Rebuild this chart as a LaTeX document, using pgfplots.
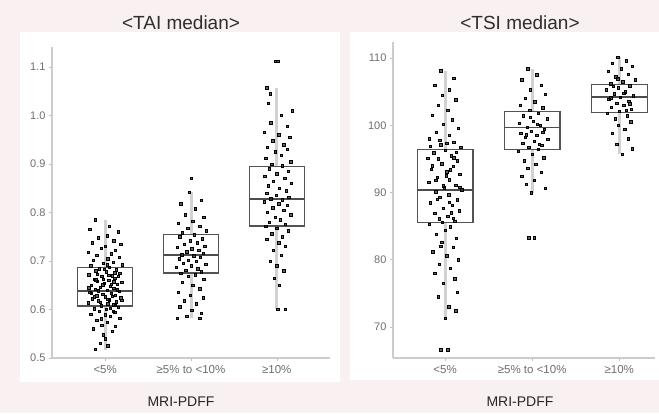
\documentclass[border=0pt]{standalone}
\usepackage{pgfplots}
\pgfplotsset{compat=1.18}
\usepgfplotslibrary{statistics}
\usepackage{fontspec}
\setmainfont{Liberation Sans}
\definecolor{bgpink}{RGB}{249,240,241}
\definecolor{txtgray}{RGB}{110,110,110}
\pgfplotsset{
  panel/.style={
    scale only axis,
    axis x line*=bottom, axis y line*=left,
    axis line style={gray!40, line width=1.5pt},
    xtick={0,1,2},
    xticklabels={{<5\%},{≥5\% to <10\%},{≥10\%}},
    x tick label style={font=\fontsize{11.5}{13}\selectfont, text=txtgray, yshift=-1pt},
    y tick label style={font=\fontsize{11}{13}\selectfont, text=txtgray},
    /pgf/number format/assume math mode=true,
    tick style={gray!50, line width=0.6pt},
    major tick length=3pt,
    tick align=outside,
    title style={font=\fontsize{19}{22}\selectfont, text=black!82, anchor=center},
    xlabel style={font=\fontsize{14}{16}\selectfont, text=black!85, anchor=center},
    boxplot/draw direction=y,
    boxplot/box extend=0.64,
    boxplot/whisker extend=0,
  },
  whiskonly/.style={boxplot/every whisker/.style={draw=gray!35, line width=3pt},
    boxplot/every box/.style={draw=none}, boxplot/every median/.style={draw=none}},
  boxonly/.style={boxplot/every whisker/.style={draw=none},
    boxplot/every box/.style={draw=gray!65!black, line width=1.2pt},
    boxplot/every median/.style={draw=gray!60!black, line width=1.4pt}},
  pts/.style={only marks, mark=square*, mark size=1.2pt, mark options={fill=black!85, draw=none, fill opacity=0.72}},
}
\pgfplotstableread{
x y
-0.12 0.785
0.05 0.772
-0.18 0.765
0.15 0.760
0.02 0.752
-0.08 0.748
0.10 0.742
-0.15 0.738
0.18 0.735
0.00 0.730
-0.05 0.726
0.12 0.722
-0.20 0.718
0.07 0.715
-0.10 0.712
0.16 0.708
0.03 0.705
-0.14 0.702
0.09 0.698
-0.02 0.695
0.20 0.692
-0.17 0.690
0.05 0.687
-0.07 0.684
0.13 0.682
-0.11 0.680
0.01 0.678
0.17 0.675
-0.19 0.672
0.08 0.670
-0.04 0.668
0.11 0.665
-0.13 0.663
0.04 0.660
-0.09 0.658
0.19 0.656
-0.01 0.654
0.14 0.652
-0.16 0.650
0.06 0.648
-0.06 0.646
0.10 0.644
-0.12 0.642
0.02 0.640
0.16 0.638
-0.18 0.636
0.07 0.634
-0.03 0.632
0.12 0.630
-0.10 0.628
0.00 0.626
0.18 0.624
-0.15 0.622
0.05 0.620
-0.08 0.618
0.13 0.616
-0.20 0.614
0.03 0.612
0.09 0.610
-0.05 0.608
0.15 0.605
-0.13 0.602
0.01 0.600
-0.07 0.597
0.11 0.594
-0.17 0.590
0.06 0.586
0.17 0.582
-0.10 0.578
0.02 0.574
-0.04 0.568
0.12 0.565
-0.14 0.560
0.08 0.555
-0.02 0.548
0.00 0.540
-0.06 0.530
0.03 0.525
-0.12 0.518
0.04 0.671
-0.11 0.661
0.14 0.641
-0.03 0.651
0.08 0.627
-0.16 0.633
0.19 0.619
-0.09 0.673
0.06 0.603
-0.01 0.683
0.10 0.657
-0.19 0.645
0.15 0.668
-0.06 0.615
0.02 0.692
0.12 0.609
-0.02 0.662
0.07 0.652
-0.08 0.639
0.03 0.621
0.11 0.676
-0.13 0.626
0.00 0.589
0.09 0.596
-0.05 0.581
}\taiA
\pgfplotstableread{
x y
1.00 0.871
0.98 0.842
1.12 0.825
0.88 0.818
1.05 0.808
0.93 0.795
1.15 0.790
1.02 0.782
0.85 0.778
1.10 0.772
0.96 0.768
1.18 0.762
0.90 0.758
1.04 0.754
0.87 0.750
1.13 0.746
0.99 0.742
1.07 0.738
0.92 0.735
1.16 0.731
0.84 0.728
1.01 0.725
1.09 0.722
0.95 0.719
1.14 0.716
0.89 0.713
1.03 0.711
1.11 0.708
0.86 0.705
0.97 0.702
1.06 0.699
0.91 0.696
1.17 0.693
1.00 0.690
0.83 0.687
1.08 0.684
0.94 0.681
1.12 0.678
0.88 0.675
1.05 0.672
0.97 0.668
1.15 0.662
0.90 0.656
1.02 0.650
1.10 0.643
0.85 0.636
0.99 0.630
1.14 0.624
0.92 0.618
1.06 0.612
0.87 0.606
1.01 0.598
1.12 0.592
0.95 0.586
0.84 0.582
1.10 0.582
}\taiB
\pgfplotstableread{
x y
1.98 1.112
2.01 1.112
1.88 1.057
1.92 1.045
1.90 1.025
2.18 1.010
2.05 1.000
1.93 0.985
2.12 0.978
1.85 0.965
2.02 0.960
2.15 0.955
1.95 0.948
2.08 0.940
1.89 0.935
2.12 0.930
1.98 0.925
2.05 0.918
1.87 0.912
2.16 0.905
1.94 0.900
2.06 0.896
1.91 0.890
2.13 0.885
2.00 0.880
1.86 0.875
2.09 0.870
1.96 0.865
2.17 0.860
1.90 0.855
2.03 0.850
2.11 0.845
1.88 0.840
1.99 0.835
2.14 0.832
1.93 0.828
2.06 0.826
1.85 0.822
2.02 0.818
2.12 0.815
1.95 0.810
2.08 0.805
1.89 0.800
2.16 0.795
1.98 0.790
2.04 0.785
1.91 0.780
2.10 0.776
1.87 0.772
2.00 0.768
2.13 0.762
1.94 0.756
2.06 0.750
1.88 0.745
2.02 0.738
2.10 0.730
1.96 0.722
2.05 0.712
1.92 0.700
2.00 0.690
2.08 0.680
1.97 0.665
2.03 0.650
2.01 0.600
2.10 0.600
}\taiC
\pgfplotstableread{
x y
-0.05 108.1
0.10 107.0
-0.12 106.0
0.05 105.3
-0.03 104.5
0.12 103.8
-0.08 103.0
0.03 102.2
-0.15 101.5
0.08 100.8
-0.02 100.2
0.15 99.6
-0.10 99.0
0.05 98.5
-0.18 98.0
0.10 97.5
-0.05 97.1
0.18 96.7
0.00 96.3
-0.13 95.9
0.07 95.5
-0.20 95.1
0.14 94.7
-0.04 94.3
0.09 93.9
-0.16 93.5
0.02 93.1
0.17 92.7
-0.09 92.3
0.05 91.9
-0.19 91.5
0.12 91.1
-0.01 90.7
0.19 90.4
-0.11 90.1
0.04 89.7
-0.06 89.3
0.14 88.9
-0.17 88.5
0.08 88.1
-0.02 87.7
0.16 87.3
-0.12 86.9
0.03 86.5
-0.07 86.1
0.11 85.7
-0.18 85.3
0.06 84.9
0.00 84.4
-0.10 83.8
0.13 83.2
-0.04 82.6
0.09 81.9
-0.14 81.2
0.02 80.6
0.15 80.0
-0.07 79.3
0.06 78.7
-0.12 78.0
0.11 77.2
-0.02 76.5
0.14 75.2
-0.08 74.5
0.04 73.0
0.12 72.4
0.00 71.3
-0.05 66.6
0.03 66.6
-0.06 97.8
0.13 96.0
-0.15 94.0
0.01 92.5
0.17 90.8
-0.09 89.0
0.07 87.0
-0.03 85.6
0.10 95.2
-0.17 96.9
0.05 88.6
-0.11 91.8
0.02 97.3
-0.08 95.0
0.06 93.4
-0.02 91.0
0.09 86.2
-0.05 82.0
}\tsiA
\pgfplotstableread{
x y
0.95 108.4
1.05 107.5
0.88 106.8
1.10 106.0
0.98 105.3
1.15 104.6
0.92 104.0
1.03 103.5
0.86 103.0
1.12 102.6
0.97 102.2
1.07 101.8
0.90 101.4
1.17 101.0
1.01 100.6
0.85 100.3
1.09 100.0
0.94 99.7
1.14 99.4
0.99 99.1
0.87 98.8
1.05 98.5
0.92 98.2
1.18 97.9
1.02 97.6
0.89 97.3
1.11 97.0
0.96 96.7
1.07 96.4
0.84 96.1
1.00 95.7
1.13 95.2
0.91 94.7
1.04 94.2
0.95 93.6
1.10 93.0
0.88 92.4
1.02 91.8
0.93 91.2
1.15 90.6
0.99 90.0
0.96 83.3
1.02 83.3
1.06 100.2
0.93 98.6
1.12 99.0
0.98 101.2
1.08 97.2
}\tsiB
\pgfplotstableread{
x y
1.98 110.1
2.08 109.6
1.92 109.2
2.15 108.8
2.02 108.4
1.87 108.0
2.10 107.6
1.96 107.2
2.18 106.8
2.04 106.5
1.90 106.2
2.12 105.9
1.99 105.6
1.85 105.3
2.07 105.0
1.94 104.7
2.16 104.4
2.01 104.2
1.88 103.9
2.11 103.6
1.97 103.3
2.05 103.0
1.91 102.7
2.14 102.4
2.00 102.1
1.86 101.8
2.09 101.4
1.95 101.0
2.13 100.5
1.99 100.0
2.06 99.4
1.92 98.8
2.10 98.0
1.97 97.2
2.15 96.5
2.03 95.7
2.05 104.8
1.93 105.8
2.12 103.2
1.98 106.9
2.08 102.2
1.90 104.1
}\tsiC
\begin{document}
\begin{tikzpicture}[x=1pt,y=1pt]
\fill[bgpink] (0,0) rectangle (659,413);
\useasboundingbox (0,0) rectangle (659,413);
\fill[white] (20,31) rectangle (340,381);
\fill[white] (350,33) rectangle (659,381);

\begin{axis}[panel,
  at={(52pt,55pt)}, anchor=south west,
  width=278pt, height=311pt,
  xmin=-0.62, xmax=2.62, ymin=0.5, ymax=1.141,
  ytick={0.5,0.6,...,1.1},
  yticklabel style={/pgf/number format/fixed, /pgf/number format/precision=1, /pgf/number format/fixed zerofill},
  title={<TAI median>}, title style={at={(0.5,1)}, yshift=18pt, xshift=-10pt},
  xlabel={MRI-PDFF}, xlabel style={at={(0.5,0)}, yshift=-44pt, xshift=-10pt},
]
\addplot[whiskonly, boxplot prepared={draw position=0, lower whisker=0.517, lower quartile=0.607, median=0.638, upper quartile=0.686, upper whisker=0.785}] coordinates {};
\addplot[whiskonly, boxplot prepared={draw position=1, lower whisker=0.582, lower quartile=0.675, median=0.712, upper quartile=0.754, upper whisker=0.842}] coordinates {};
\addplot[whiskonly, boxplot prepared={draw position=2, lower whisker=0.600, lower quartile=0.772, median=0.828, upper quartile=0.894, upper whisker=1.057}] coordinates {};
\addplot[pts] table[x=x,y=y] {\taiA};
\addplot[pts] table[x=x,y=y] {\taiB};
\addplot[pts] table[x=x,y=y] {\taiC};
\addplot[boxonly, boxplot prepared={draw position=0, lower whisker=0.517, lower quartile=0.607, median=0.638, upper quartile=0.686, upper whisker=0.785}] coordinates {};
\addplot[boxonly, boxplot prepared={draw position=1, lower whisker=0.582, lower quartile=0.675, median=0.712, upper quartile=0.754, upper whisker=0.842}] coordinates {};
\addplot[boxonly, boxplot prepared={draw position=2, lower whisker=0.600, lower quartile=0.772, median=0.828, upper quartile=0.894, upper whisker=1.057}] coordinates {};
\end{axis}

\begin{axis}[panel,
  at={(393pt,55pt)}, anchor=south west,
  width=262pt, height=316pt,
  xmin=-0.598, xmax=2.41, ymin=65.39, ymax=112.38,
  ytick={70,80,90,100,110},
  title={<TSI median>}, title style={at={(0.5,1)}, yshift=13pt, xshift=-4pt},
  xlabel={MRI-PDFF}, xlabel style={at={(0.5,0)}, yshift=-44pt, xshift=-4pt},
]
\addplot[whiskonly, boxplot prepared={draw position=0, lower whisker=71.3, lower quartile=85.5, median=90.4, upper quartile=96.4, upper whisker=108.1}] coordinates {};
\addplot[whiskonly, boxplot prepared={draw position=1, lower whisker=90.0, lower quartile=96.4, median=99.7, upper quartile=102.1, upper whisker=108.4}] coordinates {};
\addplot[whiskonly, boxplot prepared={draw position=2, lower whisker=95.7, lower quartile=101.9, median=104.2, upper quartile=106.1, upper whisker=110.1}] coordinates {};
\addplot[pts] table[x=x,y=y] {\tsiA};
\addplot[pts] table[x=x,y=y] {\tsiB};
\addplot[pts] table[x=x,y=y] {\tsiC};
\addplot[boxonly, boxplot prepared={draw position=0, lower whisker=71.3, lower quartile=85.5, median=90.4, upper quartile=96.4, upper whisker=108.1}] coordinates {};
\addplot[boxonly, boxplot prepared={draw position=1, lower whisker=90.0, lower quartile=96.4, median=99.7, upper quartile=102.1, upper whisker=108.4}] coordinates {};
\addplot[boxonly, boxplot prepared={draw position=2, lower whisker=95.7, lower quartile=101.9, median=104.2, upper quartile=106.1, upper whisker=110.1}] coordinates {};
\end{axis}
\end{tikzpicture}
\end{document}
